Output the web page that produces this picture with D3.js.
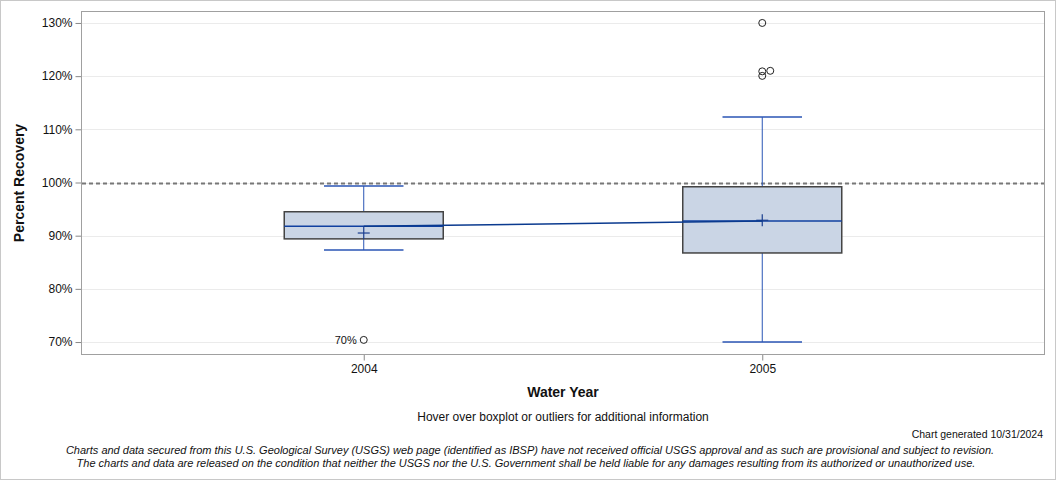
<!DOCTYPE html>
<html><head><meta charset="utf-8">
<script src="https://cdn.jsdelivr.net/npm/d3@7"></script>
<style>body{margin:0;background:#fff}svg{display:block}text{font-family:"Liberation Sans",Arial,sans-serif}</style>
</head><body><svg id="c" width="1056" height="480"></svg>
<script>
const years = ["2004", "2005"];
const q1 = [89.4, 86.75];
const median = [91.75, 92.75];
const q3 = [94.5, 99.2];
const mean = [90.5, 92.9];
const whiskerLow = [87.3, 70.0];
const whiskerHigh = [99.35, 112.3];
const outlierYear = ["2004", "2005", "2005", "2005", "2005"];
const outlierValue = [70.4, 130.0, 120.9, 120.05, 121.0];
const outlierDodge = [0, 0, 0, 0, 1];
const outlierLabel = ["70%", "", "", "", ""];
const yTicks = [70, 80, 90, 100, 110, 120, 130];
const refValue = 100;

const svg = d3.select("#c");
const L = 82, R = 1044, T = 11, B = 354;
const x = d3.scalePoint().domain(years).range([L, R]).padding(0.707);
const y = d3.scaleLinear().domain([67.75, 132.25]).range([B, T]);

svg.append("rect").attr("x",0.5).attr("y",0.5).attr("width",1055).attr("height",479).attr("fill","none").attr("stroke","#c8c8c8");

// grid
svg.append("g").selectAll("line").data(yTicks).join("line")
  .attr("x1",L).attr("x2",R).attr("y1",d=>Math.round(y(d))+0.5).attr("y2",d=>Math.round(y(d))+0.5)
  .attr("stroke","#ebebeb").attr("stroke-width",1);

// ref line
svg.append("line").attr("x1",L).attr("x2",R).attr("y1",Math.round(y(refValue))+0.5).attr("y2",Math.round(y(refValue))+0.5)
  .attr("stroke","#777").attr("stroke-width",2).attr("stroke-dasharray","4,3");

// axes
const ya = d3.axisLeft(y).tickValues(yTicks).tickFormat(d=>d+"%").tickSize(6).tickPadding(3);
const gy = svg.append("g").attr("transform",`translate(${L-0.5},0)`).call(ya);
gy.select(".domain").remove();
gy.selectAll(".tick line").attr("stroke","#888");
gy.selectAll("text").attr("font-size",12).attr("fill","#111").attr("font-family","Liberation Sans, Arial");
const xa = d3.axisBottom(x).tickSize(6).tickPadding(4);
const gx = svg.append("g").attr("transform",`translate(0,${B+0.5})`).call(xa);
gx.select(".domain").remove();
gx.selectAll(".tick line").attr("stroke","#888");
gx.selectAll("text").attr("font-size",12).attr("fill","#111").attr("font-family","Liberation Sans, Arial");

svg.append("rect").attr("x",L-0.5).attr("y",T+0.5).attr("width",R-L+1).attr("height",B-T).attr("fill","none").attr("stroke","#a0a0a0");

const boxW = 159;
const blue = "#2a55b5";
const g = svg.append("g");
years.forEach((yr,i)=>{
  const cx = x(yr);
  // whiskers
  g.append("line").attr("x1",cx).attr("x2",cx).attr("y1",y(q3[i])).attr("y2",y(whiskerHigh[i])).attr("stroke",blue).attr("stroke-width",1);
  g.append("line").attr("x1",cx).attr("x2",cx).attr("y1",y(q1[i])).attr("y2",y(whiskerLow[i])).attr("stroke",blue).attr("stroke-width",1);
  [whiskerHigh[i], whiskerLow[i]].forEach(v=>{
    g.append("line").attr("x1",cx-boxW/4).attr("x2",cx+boxW/4).attr("y1",y(v)).attr("y2",y(v)).attr("stroke",blue).attr("stroke-width",1.5);
  });
  g.append("rect").attr("x",cx-boxW/2).attr("y",y(q3[i])).attr("width",boxW).attr("height",y(q1[i])-y(q3[i]))
    .attr("fill","#cad5e5").attr("stroke","#444").attr("stroke-width",1.5);
  g.append("line").attr("x1",cx-boxW/2).attr("x2",cx+boxW/2).attr("y1",y(median[i])).attr("y2",y(median[i])).attr("stroke","#1040a0").attr("stroke-width",1.5);
  // mean cross
  g.append("line").attr("x1",cx-6).attr("x2",cx+6).attr("y1",y(mean[i])).attr("y2",y(mean[i])).attr("stroke","#1a3f8f").attr("stroke-width",1.2);
  g.append("line").attr("x1",cx).attr("x2",cx).attr("y1",y(mean[i])-6).attr("y2",y(mean[i])+6).attr("stroke","#1a3f8f").attr("stroke-width",1.2);
});
// connecting median line
g.append("path").datum(years.map((yr,i)=>[x(yr), y(median[i])]))
  .attr("d", d3.line()).attr("fill","none").attr("stroke","#0a3a8f").attr("stroke-width",1.5);

// outliers
outlierValue.forEach((v,i)=>{
  const cx = x(outlierYear[i]) + outlierDodge[i]*8;
  g.append("circle").attr("cx",cx).attr("cy",y(v)).attr("r",3.5).attr("fill","none").attr("stroke","#222").attr("stroke-width",1);
  if(outlierLabel[i]) g.append("text").attr("x",cx-7).attr("y",y(v)+4).attr("text-anchor","end").attr("font-size",11).attr("fill","#111").text(outlierLabel[i]);
});

// titles
svg.append("text").attr("transform","translate(24,183) rotate(-90)").attr("text-anchor","middle").attr("font-size",14).attr("font-weight","bold").attr("fill","#111").text("Percent Recovery");
svg.append("text").attr("x",563).attr("y",397).attr("text-anchor","middle").attr("font-size",14).attr("font-weight","bold").attr("fill","#111").text("Water Year");
svg.append("text").attr("x",563).attr("y",421).attr("text-anchor","middle").attr("font-size",12).attr("fill","#111").text("Hover over boxplot or outliers for additional information");
svg.append("text").attr("x",1043).attr("y",438).attr("text-anchor","end").attr("font-size",10.5).attr("fill","#111").text("Chart generated 10/31/2024");
svg.append("text").attr("x",530).attr("y",454).attr("text-anchor","middle").attr("font-size",11).attr("font-style","italic").attr("fill","#111").text("Charts and data secured from this U.S. Geological Survey (USGS) web page (identified as IBSP) have not received official USGS approval and as such are provisional and subject to revision.");
svg.append("text").attr("x",526).attr("y",467).attr("text-anchor","middle").attr("font-size",11).attr("font-style","italic").attr("fill","#111").text("The charts and data are released on the condition that neither the USGS nor the U.S. Government shall be held liable for any damages resulting from its authorized or unauthorized use.");
</script></body></html>
